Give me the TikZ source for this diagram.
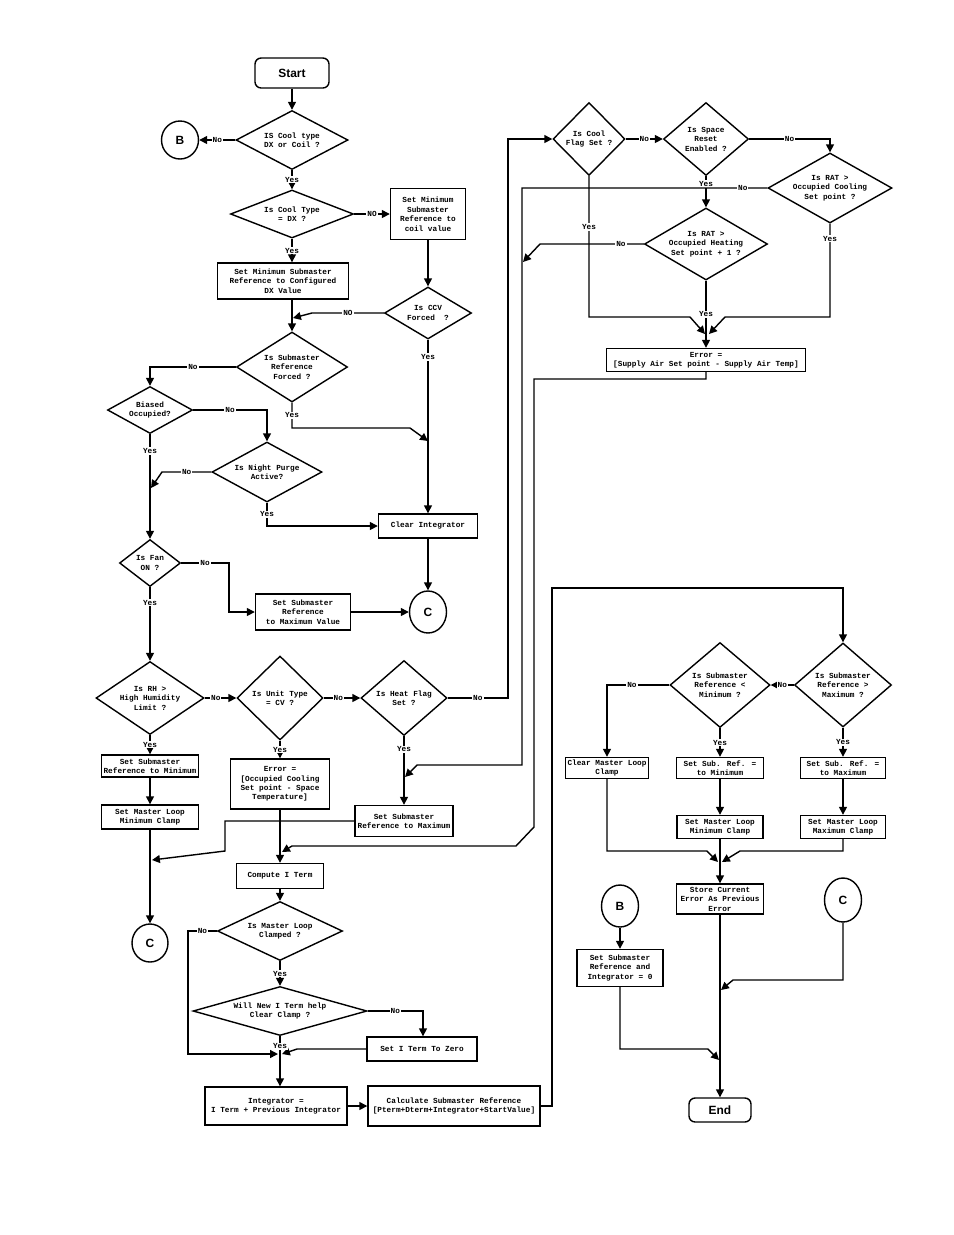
\documentclass[tikz,border=0pt]{standalone}
\usepackage{fontspec}
\setmainfont{Liberation Mono}
\newfontfamily\headfont{Liberation Sans}
\usetikzlibrary{shapes.geometric,arrows.meta}
\tikzset{
  every node/.style={font=\fontsize{4.4}{5.4}\selectfont\bfseries},
  box/.style={draw, rectangle, align=center, inner sep=0pt},
  decision/.style={draw, diamond, align=center, inner sep=0pt},
  terminal/.style={draw, rectangle, rounded corners=3.5pt, font=\headfont\fontsize{6.8}{8}\selectfont\bfseries},
  connector/.style={draw, ellipse, inner sep=0pt, font=\headfont\fontsize{6.8}{8}\selectfont\bfseries},
  wh/.style 2 args={minimum width=#1*0.02cm, minimum height=#2*0.02cm},
  lbl/.style={fill=white, inner sep=0.6pt},
  flow/.style={-{Triangle[length=4.5pt,width=4.5pt]}}
}
\begin{document}
\begin{tikzpicture}[x=0.02cm, y=-0.02cm, line width=0.8pt]
  \useasboundingbox (0,0) rectangle (954,1235);
  \node[terminal, wh={74}{30}] (start) at (292,73) {Start};
  \node[connector, wh={37}{38}] (b1) at (180,140) {B};
  \node[decision, wh={112}{59}, aspect=1.9] (q1) at (292,140) {IS Cool type\\DX or Coil ?};
  \node[decision, wh={123}{48}, aspect=2.6] (q2) at (292,214) {Is Cool Type\\= DX ?};
  \node[box, wh={75}{51}] (p1) at (428,214) {Set Minimum\\Submaster\\Reference to\\coil value};
  \node[box, wh={131}{36}] (p2) at (283,281) {Set Minimum Submaster\\Reference to Configured\\DX Value};
  \node[decision, wh={87}{52}, aspect=1.7] (q3) at (428,313) {Is CCV\\Forced~~?};
  \node[decision, wh={111}{70}, aspect=1.6] (q4) at (292,367) {Is Submaster\\Reference\\Forced ?};
  \node[decision, wh={85}{47}, aspect=1.8] (q5) at (150,410) {Biased\\Occupied?};
  \node[decision, wh={110}{60}, aspect=1.9] (q6) at (267,472) {Is Night Purge\\Active?};
  \node[box, wh={99}{24}] (p3) at (428,526) {Clear Integrator};
  \node[decision, wh={61}{47}, aspect=1.3] (q7) at (150,563) {Is Fan\\ON ?};
  \node[box, wh={95}{36}] (p4) at (303,612) {Set Submaster\\Reference\\to Maximum Value};
  \node[connector, wh={37}{42}] (c1) at (428,612) {C};
  \node[decision, wh={108}{73}, aspect=1.55] (q8) at (150,698) {Is RH >\\High Humidity\\Limit ?};
  \node[decision, wh={86}{84}, aspect=1.3] (q9) at (280,698) {Is Unit Type\\= CV ?};
  \node[decision, wh={86}{75}, aspect=1.3] (q10) at (404,698) {Is Heat Flag\\Set ?};
  \node[box, wh={97}{22}] (p5) at (150,766) {Set Submaster\\Reference to Minimum};
  \node[box, wh={97}{24}] (p6) at (150,817) {Set Master Loop\\Minimum Clamp};
  \node[connector, wh={36}{38}] (c2) at (150,943) {C};
  \node[box, wh={99}{50}] (p7) at (280,784) {Error =\\{[}Occupied Cooling\\Set point - Space\\Temperature{]}};
  \node[box, wh={87}{25}] (p8) at (280,876) {Compute I Term};
  \node[box, wh={98}{31}] (p9) at (404,821) {Set Submaster\\Reference to Maximum};
  \node[decision, wh={125}{59}, aspect=2.2] (q11) at (280,931) {Is Master Loop\\Clamped ?};
  \node[decision, wh={174}{49}, aspect=3.6] (q12) at (280,1011) {Will New I Term help\\Clear Clamp ?};
  \node[box, wh={110}{24}] (p10) at (422,1049) {Set I Term To Zero};
  \node[box, wh={142}{38}] (p11) at (276,1106) {Integrator =\\I Term + Previous Integrator};
  \node[box, wh={172}{40}] (p12) at (454,1106) {Calculate Submaster Reference\\{[}Pterm+Dterm+Integrator+StartValue{]}};
  \node[decision, wh={72}{73}, aspect=1.15] (q13) at (589,139) {Is Cool\\Flag Set ?};
  \node[decision, wh={85}{73}, aspect=1.2] (q14) at (706,139) {Is Space\\Reset\\Enabled ?};
  \node[decision, wh={124}{70}, aspect=1.8] (q15) at (830,188) {Is RAT >\\Occupied Cooling\\Set point ?};
  \node[decision, wh={123}{72}, aspect=1.75] (q16) at (706,244) {Is RAT >\\Occupied Heating\\Set point + 1 ?};
  \node[box, wh={199}{23}] (p13) at (706,360) {Error =\\{[}Supply Air Set point - Supply Air Temp{]}};
  \node[decision, wh={100}{85}, aspect=1.25] (q17) at (720,685) {Is Submaster\\Reference <\\Minimum ?};
  \node[decision, wh={97}{84}, aspect=1.25] (q18) at (843,685) {Is Submaster\\Reference >\\Maximum ?};
  \node[box, wh={83}{21}] (p14) at (607,768) {Clear Master Loop\\Clamp};
  \node[box, wh={87}{21}] (p15) at (720,768) {Set Sub. Ref. =\\to Minimum};
  \node[box, wh={85}{21}] (p16) at (843,768) {Set Sub. Ref. =\\to Maximum};
  \node[box, wh={86}{23}] (p17) at (720,827) {Set Master Loop\\Minimum Clamp};
  \node[box, wh={85}{23}] (p18) at (843,827) {Set Master Loop\\Maximum Clamp};
  \node[box, wh={87}{30}] (p19) at (720,899) {Store Current\\Error As Previous\\Error};
  \node[connector, wh={37}{42}] (b2) at (620,906) {B};
  \node[connector, wh={37}{44}] (c3) at (843,900) {C};
  \node[box, wh={86}{37}] (p20) at (620,968) {Set Submaster\\Reference and\\Integrator = 0};
  \node[terminal, wh={62}{24}] (end) at (720,1110) {End};
  \coordinate (m1) at (293,318);
  \coordinate (m2) at (428,441);
  \coordinate (m3) at (151,488);
  \coordinate (m4) at (278,1054);
  \coordinate (m5) at (282,1054);
  \coordinate (m7) at (718,862);
  \coordinate (m8) at (722,862);
  \coordinate (m9) at (721,990);
  \coordinate (m10) at (719,1060);
  \coordinate (m11) at (405,777);
  \coordinate (m12) at (523,262);
  \coordinate (m13) at (705,334);
  \coordinate (m14) at (709,334);
  \coordinate (m15) at (282,852);
  \coordinate (m16) at (152,860);
  \begin{scope}[flow]
    \draw (start) -- (q1);
    \draw (q1.west) -- node[lbl]{No} (b1.east);
    \draw (q1.south) -- node[lbl]{Yes} (q2.north);
    \draw (q2.east) -- node[lbl]{NO} (p1.west);
    \draw (q2.south) -- node[lbl]{Yes} (q2.south |- p2.north);
    \draw (p1) -- (q3);
    \draw (q3.west) -- node[lbl]{NO} (312,313) -- (m1);
    \draw (q2.south |- p2.south) -- (q4.north);
    \draw (q3.south) -- node[lbl, pos=0.1]{Yes} (p3.north);
    \draw (q4.west) -| node[lbl, pos=0.25]{No} (q5.north);
    \draw (q4.south) -- node[lbl]{Yes} (292,428) -- (410,428) -- (m2);
    \draw (q5.east) -| node[lbl, pos=0.25]{No} (q6.north);
    \draw (q5.south) -- node[lbl, pos=0.16]{Yes} (q7.north);
    \draw (q6.west) -- node[lbl]{No} (162,472) -- (m3);
    \draw (q6.south) |- node[lbl, pos=0.25]{Yes} (p3.west);
    \draw (p3) -- (c1);
    \draw (q7.east) -- node[lbl]{No} (229,563) |- (p4.west);
    \draw (p4) -- (c1);
    \draw (q7.south) -- node[lbl, pos=0.21]{Yes} (q8.north);
    \draw (q8.east) -- node[lbl, pos=0.35]{No} (q9.west);
    \draw (q9.east) -- node[lbl, pos=0.4]{No} (q10.west);
    \draw (q10.east) -- node[lbl]{No} (508,698) |- (q13.west);
    \draw (q8.south) -- node[lbl]{Yes} (p5.north);
    \draw (p5) -- (p6);
    \draw (p6) -- (c2);
    \draw (q9.south) -- node[lbl]{Yes} (p7.north);
    \draw (p7) -- (p8);
    \draw (q10.south) -- node[lbl, pos=0.19]{Yes} (p9.north);
    \draw (p9.west) -- (225,821) -- (225,851) -- (m16);
    \draw (p8) -- (q11);
    \draw (q11.south) -- node[lbl]{Yes} (q12.north);
    \draw (q11.west) -- node[lbl]{No} (188,931) |- (m4);
    \draw (q12.east) -| node[lbl, pos=0.25]{No} ([xshift=0.02cm]p10.north);
    \draw (p10.west) -- (297,1049) -- (m5);
    \draw (q12.south) -- node[lbl, pos=0.2]{Yes} (p11.north -| q12.south);
    \draw (p11) -- (p12);
    \draw (p12.east) -- (552,1106) -- (552,588) -| (q18.north);
    \draw (q13.east) -- node[lbl]{No} (q14.west);
    \draw (q14.east) -| node[lbl, pos=0.25]{No} (q15.north);
    \draw (q14.south) -- node[lbl, pos=0.25]{Yes} (q16.north);
    \draw (q15.west) -- node[lbl, pos=0.1]{No} (522,188) -- (522,765) -- (417,765) -- (m11);
    \draw (q16.west) -- node[lbl, pos=0.22]{No} (540,244) -- (m12);
    \draw (q13.south) -- node[lbl, pos=0.36]{Yes} (589,317) -- (690,317) -- (m13);
    \draw (q15.south) -- node[lbl, pos=0.16]{Yes} (830,317) -- (725,317) -- (m14);
    \draw (q16.south) -- node[lbl]{Yes} (p13.north);
    \draw (p13.south) |- (534,379) -- (534,827) -- (516,846) -- (292,846) -- (m15);
    \draw (q18.west) -- node[lbl]{No} (q17.east);
    \draw (q17.west) -| node[lbl, pos=0.3]{No} (p14.north);
    \draw (q17.south) -- node[lbl]{Yes} (p15.north);
    \draw (q18.south) -- node[lbl]{Yes} (p16.north);
    \draw (p15) -- (p17);
    \draw (p16) -- (p18);
    \draw (p17) -- (p19);
    \draw (p14.south) |- (707,851) -- (m7);
    \draw (p18.south) |- (740,851) -- (m8);
    \draw (p19) -- (end);
    \draw (b2) -- (p20);
    \draw (c3.south) |- (733,980) -- (m9);
    \draw (p20.south) |- (708,1049) -- (m10);
  \end{scope}
\end{tikzpicture}
\end{document}
